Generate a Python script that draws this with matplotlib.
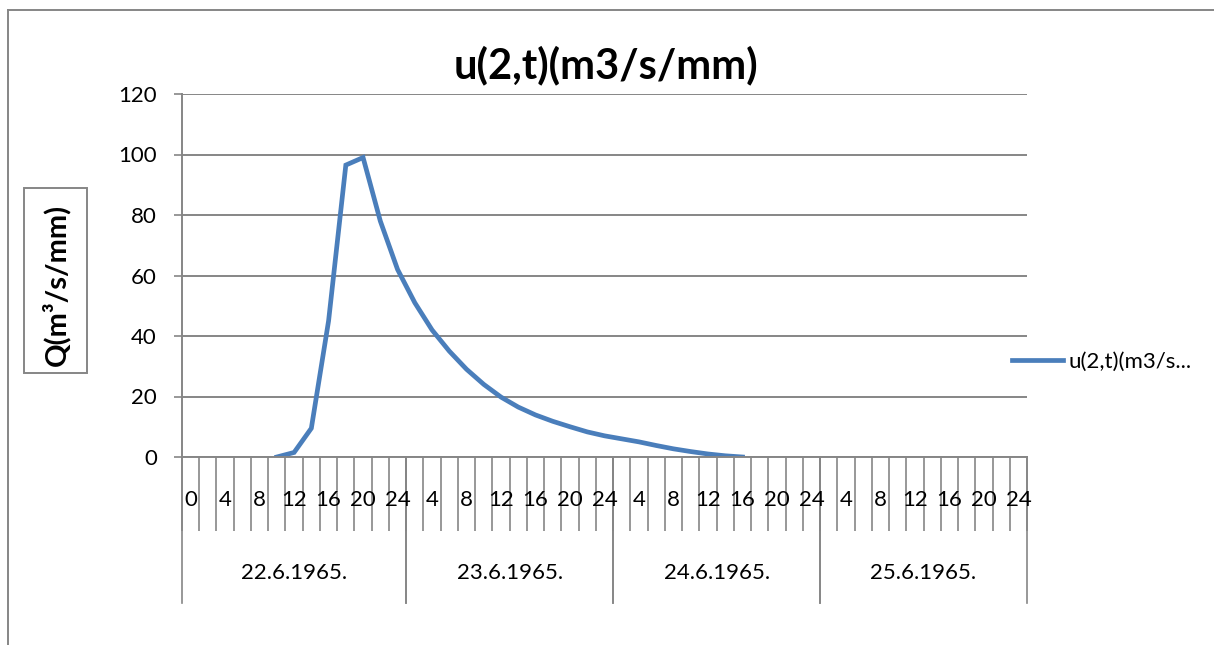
import numpy as np
import matplotlib.pyplot as plt
from matplotlib.patches import Rectangle
from matplotlib.lines import Line2D

# categories: 22.6 has hours 0..24, other days 2..24 (2 h step)
days = ['22.6.1965.', '23.6.1965.', '24.6.1965.', '25.6.1965.']
day_hours = [list(range(0, 25, 2))] + [list(range(2, 25, 2))] * 3
hours = [h for hs in day_hours for h in hs]

# unit hydrograph values, NaN where the cell is empty
u_vals = [np.nan] * 5 + [
    0, 1.5, 9.5, 45, 96.5, 99, 78, 62, 51, 42, 35, 29, 24, 19.8, 16.5,
    13.9, 11.8, 10, 8.3, 7, 6, 5, 3.8, 2.7, 1.8, 1.0, 0.4, 0,
]
u_vals += [np.nan] * (len(hours) - len(u_vals))

grey = '#868686'
blue = '#4A7EBB'
plt.rcParams['font.family'] = ['Lato', 'DejaVu Sans']
fs = 16

fig = plt.figure(figsize=(12.14, 6.45), dpi=100)
W, H = 1214, 645
ax = fig.add_axes([182 / W, 1 - 457 / H, (1027 - 182) / W, (457 - 94) / H])

x = np.arange(len(hours))
ax.plot(x, u_vals, color=blue, lw=3.4, solid_joinstyle='miter',
        label='u(2,t)(m3/s...')

ax.set_xlim(-0.5, len(hours) - 0.5)
ax.set_ylim(0, 120)
ax.set_yticks(np.arange(0, 121, 20))
ax.yaxis.grid(True, color=grey, lw=1.4)
ax.set_axisbelow(True)
ax.tick_params(axis='y', length=6, width=1.2, color=grey, labelsize=fs, pad=12)
for s in ['top', 'right']:
    ax.spines[s].set_visible(False)
for s in ['left', 'bottom']:
    ax.spines[s].set_color(grey)
    ax.spines[s].set_linewidth(1.4)

# category ticks between every category
ax.set_xticks(np.arange(-0.5, len(hours), 1))
ax.set_xticklabels([])
ax.tick_params(axis='x', length=53, width=1.2, color=grey, direction='out')

# hour labels (every 2nd category) and day labels
trans = ax.get_xaxis_transform()
dy = 1 / (457 - 94)
for i, h in enumerate(hours):
    if i % 2 == 0:
        ax.text(i, -43 * dy, str(h), ha='center', va='center', fontsize=fs,
                transform=trans)
start = 0
for d, hs in zip(days, day_hours):
    end = start + len(hs)
    ax.add_line(Line2D([start - 0.5, start - 0.5], [0, -146 * dy], color=grey,
                       lw=1.2, transform=trans, clip_on=False))
    ax.add_line(Line2D([end - 0.5, end - 0.5], [0, -146 * dy], color=grey,
                       lw=1.2, transform=trans, clip_on=False))
    ax.text((start + end - 1) / 2, -116 * dy, d, ha='center', va='center',
            fontsize=fs, transform=trans)
    start = end

fig.text(606 / W, 1 - 65 / H, 'u(2,t)(m3/s/mm)', ha='center', va='center',
         fontsize=30, fontweight='bold')

# y axis title in a box
fig.patches.append(Rectangle((24 / W, 1 - 373 / H), 63 / W, 185 / H,
                             transform=fig.transFigure, fill=False,
                             edgecolor=grey, lw=1.4))
fig.text(56 / W, 1 - 285 / H, 'Q(m³/s/mm)', rotation=90, ha='center',
         va='center', fontsize=21, fontweight='bold')

# chart border (left and top)
fig.add_artist(Line2D([8 / W, 8 / W], [0, 1 - 10 / H], color=grey, lw=1.4,
                      transform=fig.transFigure))
fig.add_artist(Line2D([8 / W, 1], [1 - 10 / H, 1 - 10 / H], color=grey, lw=1.4,
                      transform=fig.transFigure))

ax.legend(loc='center left', bbox_to_anchor=((1012 - 182) / 845, (457 - 362) / 363),
          frameon=False, fontsize=fs, handlelength=2.3, handletextpad=0.25,
          borderaxespad=0, borderpad=0)

fig.savefig('out.png', dpi=100)
